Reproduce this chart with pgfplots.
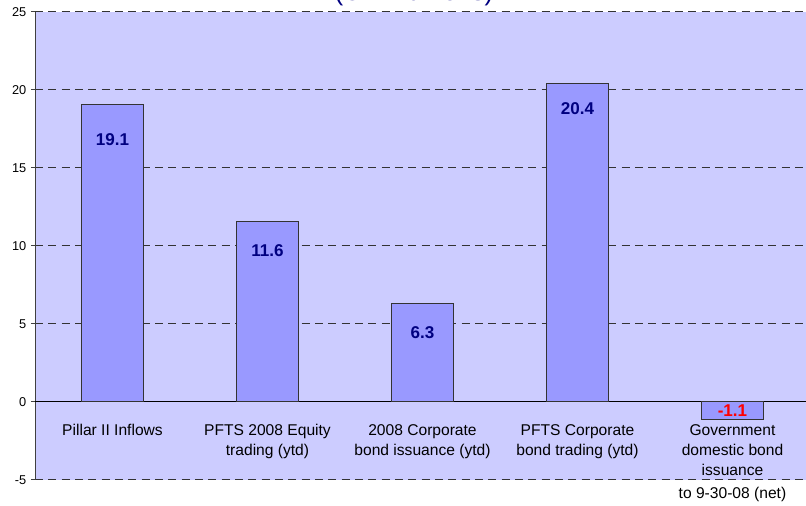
\documentclass[border=0pt]{standalone}
\usepackage{pgfplots}
\pgfplotsset{compat=1.18}
\usepackage{fontspec}
\setmainfont{Liberation Sans}
\definecolor{bgc}{HTML}{CCCCFF}
\definecolor{barc}{HTML}{9999FF}
\definecolor{navyc}{HTML}{000080}
\begin{document}
\begin{tikzpicture}
\begin{axis}[
  at={(26.25pt,19.5pt)}, anchor=south west,
  scale only axis, width=581.25pt, height=351pt,
  xmin=-0.5, xmax=4.5, ymin=-5, ymax=25,
  axis x line=none, axis y line=left,
  axis line style={-},
  y axis line style={draw=black!75, line width=0.75pt},
  axis background/.style={fill=bgc},
  ytick={-5,5,10,15,20,25}, extra y ticks={0},
  extra y tick style={grid style={solid, black, line width=0.75pt}},
  ymajorgrids,
  grid style={black!80, line width=0.75pt, dash pattern=on 6pt off 4pt},
  tick align=outside, major tick length=3pt,
  tick style={draw=black!75, line width=0.75pt},
  yticklabel style={font=\fontsize{9.6pt}{11pt}\selectfont},
  /pgf/number format/assume math mode=true,
  clip=false,
]
\addplot[ybar, bar shift=0pt, bar width=0.406, fill=barc, draw=black!80, line width=0.75pt,
  nodes near coords, point meta=explicit symbolic,
  visualization depends on={\thisrow{dy}\as\dy},
  every node near coord/.append style={anchor=center, yshift=\dy*0.75pt,
    font=\fontsize{12.8pt}{14pt}\selectfont\bfseries, text=navyc}]
 table[x=x, y=y, meta=lab] {
x y dy lab
0 19.1 -36 19.1
1 11.6 -29.5 11.6
2 6.3 -29 6.3
3 20.4 -25 20.4
};
\addplot[ybar, bar shift=0pt, bar width=0.406, fill=barc, draw=black!80, line width=0.75pt,
  nodes near coords, point meta=explicit symbolic,
  visualization depends on={\thisrow{dy}\as\dy},
  every node near coord/.append style={anchor=center, yshift=\dy*0.75pt,
    font=\fontsize{12.8pt}{14pt}\selectfont\bfseries, text=red}]
 table[x=x, y=y, meta=lab] {
x y dy lab
4 -1.1 9 -1.1
};
\begin{scope}[every node/.style={anchor=north, align=center, inner sep=0pt,
   font=\fontsize{11.7pt}{15pt}\selectfont}]
\node at (axis cs:0,-1.41) {Pillar II Inflows};
\node at (axis cs:1,-1.41) {PFTS 2008 Equity\\trading (ytd)};
\node at (axis cs:2,-1.41) {2008 Corporate\\bond issuance (ytd)};
\node at (axis cs:3,-1.41) {PFTS Corporate\\bond trading (ytd)};
\node at (axis cs:4,-1.41) {Government\\domestic bond\\issuance\\[2.25pt]to 9-30-08 (net)};
\end{scope}
\end{axis}
\node[anchor=base, inner sep=0pt, font=\fontsize{19.5pt}{22pt}\selectfont, text=navyc]
  at (310.5pt,379.1pt) {(UAH billions)};
\pgfresetboundingbox
\useasboundingbox (0,0) rectangle (604.5pt,379.5pt);
\end{tikzpicture}
\end{document}
